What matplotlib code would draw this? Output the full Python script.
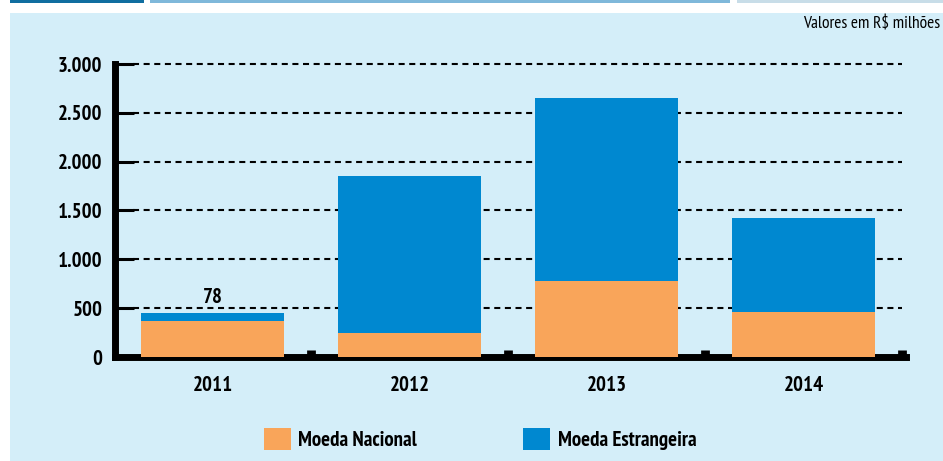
import numpy as np
from matplotlib import pyplot as plt
from matplotlib.patches import Rectangle
from matplotlib import font_manager

# data (R$ milhões)
years = ["2011", "2012", "2013", "2014"]
nacional = [370, 245, 778, 461]
estrangeira = [78, 1608, 1873, 962]
yticks = [0, 500, 1000, 1500, 2000, 2500, 3000]
ytick_labels = ["0", "500", "1.000", "1.500", "2.000", "2.500", "3.000"]

# pick a condensed humanist face if there is one
prefer = ["PT Sans Narrow", "Asap Condensed", "Cabin Condensed", "Archivo Narrow",
          "Barlow Semi Condensed"]


def find_font(bold):
    for name in prefer:
        for f in font_manager.fontManager.ttflist:
            if f.name != name or f.style != "normal":
                continue
            wt = f.weight if isinstance(f.weight, int) else {"bold": 700, "normal": 400, "regular": 400}.get(f.weight, 0)
            if (bold and wt == 700) or (not bold and wt == 400):
                return font_manager.FontProperties(fname=f.fname), name
    fam = ["Liberation Sans", "DejaVu Sans"]
    return font_manager.FontProperties(family=fam, weight="bold" if bold else "normal"), "fallback"


fp_b, nb = find_font(True)
fp_r, nr = find_font(False)

c_nac = "#F9A55A"
c_est = "#0088D0"
bg = "#D4EEF9"

fig = plt.figure(figsize=(9.43, 4.61), dpi=100)
fig.patch.set_facecolor("white")

# background panel and top strips
for rect in [(10, 0, 933, 448, bg), (10, 458, 134, 3, "#106EA0"),
             (150, 458, 580, 3, "#7FB8DA"), (737, 458, 206, 3, "#C8DDE8")]:
    fig.patches.append(Rectangle((rect[0]/943, rect[1]/461), rect[2]/943, rect[3]/461,
                                 transform=fig.transFigure, facecolor=rect[4],
                                 edgecolor="none", zorder=-5))

ax = fig.add_axes([115/943, 1 - 357/461, (906 - 115)/943, (357 - 64)/461])
ax.set_facecolor("none")
ax.set_zorder(2)

x = np.arange(len(years))
w = 143/197
b1 = ax.bar(x, nacional, width=w, color=c_nac, zorder=3, label="Moeda Nacional")
b2 = ax.bar(x, estrangeira, width=w, bottom=nacional, color=c_est, zorder=3, label="Moeda Estrangeira")

ax.hlines(yticks[1:], -0.404, 3.5, colors="black", linestyles=(0, (2.9, 2.2)), linewidth=1.5,
          zorder=1, clip_on=False)

ax.text(x[0], nacional[0] + estrangeira[0] + 60, str(estrangeira[0]), ha="center", va="bottom",
        fontproperties=fp_b, fontsize=15)

ax.set_xlim(-0.495, 3.52)
ax.set_ylim(0, 3000)

for s in ["top", "right"]:
    ax.spines[s].set_visible(False)
ax.spines["left"].set_linewidth(5)
ax.spines["bottom"].set_linewidth(5)
ax.spines["left"].set_capstyle("projecting")

ax.set_yticks(yticks)
ax.set_yticklabels(ytick_labels)
ax.tick_params(axis="y", direction="in", length=14, width=2.2, pad=9)

ax.set_xticks(x)
ax.set_xticklabels(years)
ax.tick_params(axis="x", which="major", length=0, pad=14)
ax.set_xticks(x + 0.5, minor=True)
ax.tick_params(axis="x", which="minor", direction="in", length=4.7, width=6.3)

for lab in ax.get_yticklabels() + ax.get_xticklabels():
    lab.set_fontproperties(fp_b)
    lab.set_fontsize(15)

fig.text(940/943, 1 - 24/461, "Valores em R$ milhões", ha="right", va="center",
         fontproperties=fp_r, fontsize=12.5)

lp = fp_b.copy()
lp.set_size(15)
fig.legend(handles=[b1, b2], loc="center", bbox_to_anchor=(480/943, 1 - 439/461), ncol=2,
           frameon=False, prop=lp,
           handlelength=1.3, handleheight=1.2, handletextpad=0.35, columnspacing=5.1)

fig.savefig("out.png", dpi=100, facecolor=fig.get_facecolor())
